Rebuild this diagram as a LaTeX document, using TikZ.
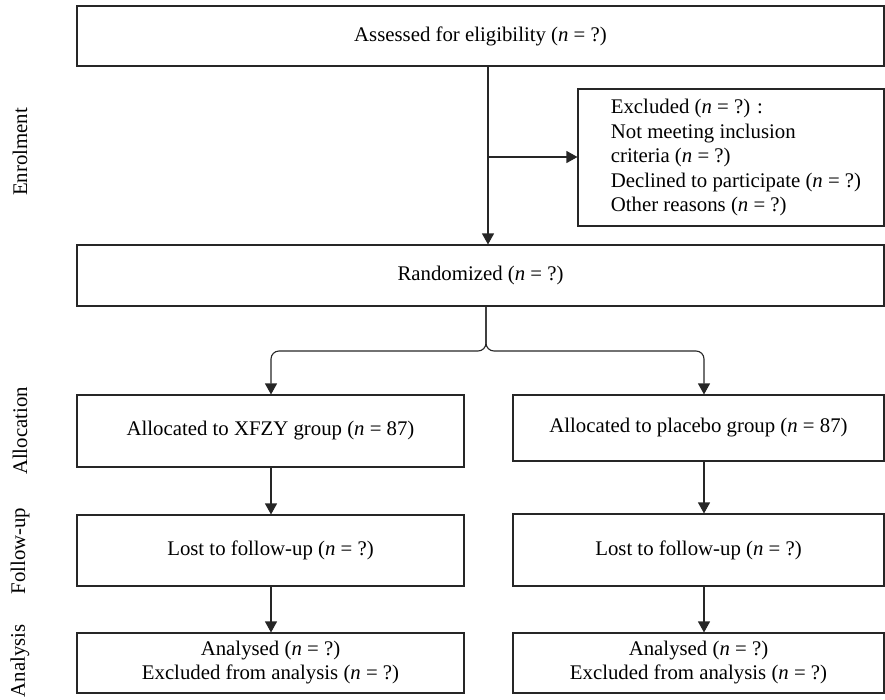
\documentclass[tikz,border=0pt]{standalone}
\usepackage{fontspec}
\setmainfont{Liberation Serif}
\usetikzlibrary{arrows.meta}
\begin{document}
\begin{tikzpicture}[x=1pt,y=-1pt,
  box/.style={draw=black!85,line width=1.1pt,rectangle,inner sep=0pt,align=center,
    font=\fontsize{20.8}{24}\selectfont},
  side/.style={rotate=90,font=\fontsize{20.8}{24}\selectfont,inner sep=0pt},
  arr/.style={draw=black!85,line width=1.1pt,-{Triangle[width=12pt,length=11pt]}}]
\useasboundingbox (0,0) rectangle (885,699);
\node[box,minimum width=807pt,minimum height=60pt] (assess) at (480.5,36) {Assessed for eligibility (\textit{n} = ?)};
\node[box,minimum width=306pt,minimum height=137pt] (excl) at (731,157.5) {};
\node[font=\fontsize{20.8}{24.5}\selectfont,align=left,inner sep=0pt] (excltext) at (736,157.5) {Excluded (\textit{n} = ?) :\\Not meeting inclusion\\criteria (\textit{n} = ?)\\Declined to participate (\textit{n} = ?)\\Other reasons (\textit{n} = ?)};
\node[box,minimum width=807pt,minimum height=61pt] (rand) at (480.5,275.5) {Randomized (\textit{n} = ?)};
\node[box,minimum width=387pt,minimum height=72pt] (allocL) at (270.5,431) {Allocated to XFZY group (\textit{n} = 87)};
\node[box,minimum width=371pt,minimum height=66pt] (allocR) at (698.5,428) {Allocated to placebo group (\textit{n} = 87)};
\node[box,minimum width=387pt,minimum height=71pt] (fuL) at (270.5,550.5) {Lost to follow-up (\textit{n} = ?)};
\node[box,minimum width=371pt,minimum height=72pt] (fuR) at (698.5,550) {Lost to follow-up (\textit{n} = ?)};
\node[box,minimum width=387pt,minimum height=60pt] (anL) at (270.5,663) {Analysed (\textit{n} = ?)\\Excluded from analysis (\textit{n} = ?)};
\node[box,minimum width=371pt,minimum height=60pt] (anR) at (698.5,663) {Analysed (\textit{n} = ?)\\Excluded from analysis (\textit{n} = ?)};
\node[side] (lab1) at (20,152) {Enrolment};
\node[side] (lab2) at (20,431) {Allocation};
\node[side] (lab3) at (20,551) {Follow-up};
\node[side] (lab4) at (20,661) {Analysis};
\coordinate (v) at (488,157);
\coordinate (split) at (486,351);
\coordinate (cl) at (271,0);
\coordinate (cr) at (704,0);
\draw[arr] (assess.south -| v) -- (rand.north -| v);
\draw[arr] (v) -- (excl.west |- v);
\draw[arr,rounded corners=8pt] (rand.south -| split) -- (split) -- (split -| cl) -- (allocL.north -| cl);
\draw[arr,rounded corners=8pt] (rand.south -| split) -- (split) -- (split -| cr) -- (allocR.north -| cr);
\draw[arr] (allocL.south -| cl) -- (fuL.north -| cl);
\draw[arr] (allocR.south -| cr) -- (fuR.north -| cr);
\draw[arr] (fuL.south -| cl) -- (anL.north -| cl);
\draw[arr] (fuR.south -| cr) -- (anR.north -| cr);
\end{tikzpicture}
\end{document}
